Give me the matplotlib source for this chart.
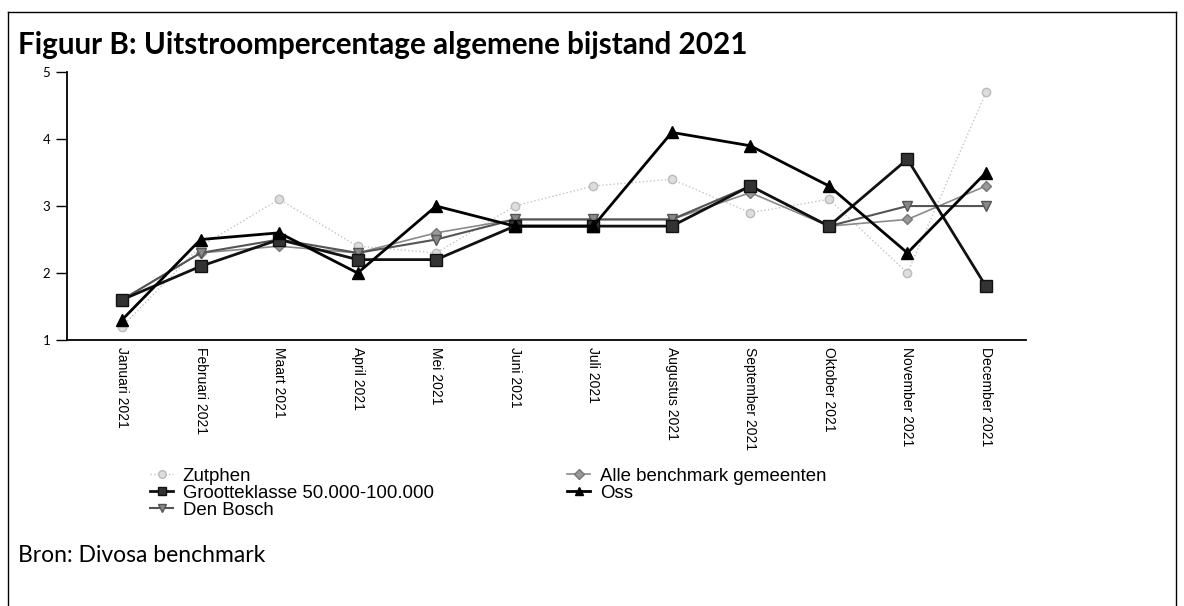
import matplotlib.pyplot as plt
from matplotlib.lines import Line2D

maanden = ["Januari 2021", "Februari 2021", "Maart 2021", "April 2021", "Mei 2021", "Juni 2021",
           "Juli 2021", "Augustus 2021", "September 2021", "Oktober 2021", "November 2021", "December 2021"]
zutphen = [1.2, 2.4, 3.1, 2.4, 2.3, 3.0, 3.3, 3.4, 2.9, 3.1, 2.0, 4.7]
grootteklasse = [1.6, 2.1, 2.5, 2.2, 2.2, 2.7, 2.7, 2.7, 3.3, 2.7, 3.7, 1.8]
den_bosch = [1.6, 2.3, 2.5, 2.3, 2.5, 2.8, 2.8, 2.8, 3.3, 2.7, 3.0, 3.0]
alle = [1.6, 2.3, 2.4, 2.3, 2.6, 2.8, 2.8, 2.8, 3.2, 2.7, 2.8, 3.3]
oss = [1.3, 2.5, 2.6, 2.0, 3.0, 2.7, 2.7, 4.1, 3.9, 3.3, 2.3, 3.5]

fig = plt.figure(figsize=(11.84, 6.06), dpi=100)
ax = fig.add_axes([0.0566, 0.439, 0.81, 0.442])
x = list(range(len(maanden)))

# lijnen
l_zut, = ax.plot(x, zutphen, color="#c4c4c4", lw=1, ls=":", marker="o", ms=6,
                 mfc="#dddddd", mec="#bbbbbb", label="Zutphen")
l_alle, = ax.plot(x, alle, color="#8a8a8a", lw=1.2, marker="D", ms=5,
                  mfc="#999999", mec="#777777", label="Alle benchmark gemeenten")
l_db, = ax.plot(x, den_bosch, color="#555555", lw=1.5, marker="v", ms=7,
                mfc="#888888", mec="#555555", label="Den Bosch")
l_gr, = ax.plot(x, grootteklasse, color="#111111", lw=2, marker="s", ms=8,
                mfc="#333333", mec="#111111", label="Grootteklasse 50.000-100.000")
l_oss, = ax.plot(x, oss, color="#000000", lw=2, marker="^", ms=8,
                 mfc="#000000", mec="#000000", label="Oss")

ax.set_xlim(-0.7, 11.51)
ax.set_ylim(1, 5)
ax.set_yticks([1, 2, 3, 4, 5])
ax.set_xticks(x)
ax.set_xticklabels(maanden, rotation=270, fontsize=10, family="Liberation Sans", va="top")
ax.tick_params(axis="x", length=0, pad=5)
ax.tick_params(axis="y", length=8, width=1, labelsize=9.5, pad=4)
for t in ax.get_yticklabels():
    t.set_family("Lato")
ax.spines["top"].set_visible(False)
ax.spines["right"].set_visible(False)
ax.spines["left"].set_linewidth(1.3)
ax.spines["bottom"].set_linewidth(1.3)

# legenda in twee kolommen, strak op elkaar
lprops = {"family": "Liberation Sans", "size": 13.4}
lkw = dict(loc="upper left", frameon=False, handlelength=1.25, handletextpad=0.5,
           labelspacing=0.0, borderpad=0, borderaxespad=0, prop=lprops)
leg1 = fig.legend(handles=[l_zut, l_gr, l_db], bbox_to_anchor=(0.1267, 0.228), **lkw)
leg2 = fig.legend(handles=[l_alle, l_oss], bbox_to_anchor=(0.479, 0.228), **lkw)
for lg in (leg1, leg2):
    for h in lg.legend_handles:
        h.set_markersize(5.5)

fig.text(0.015, 0.926, "Figuur B: Uitstroompercentage algemene bijstand 2021",
         fontsize=21.3, fontweight="bold", family="Lato", va="center")
fig.text(0.015, 0.083, "Bron: Divosa benchmark", fontsize=16.5, family="Lato", va="center")

# kader
fig.add_artist(Line2D([0.007, 0.993], [0.98, 0.98], color="black", lw=1))
fig.add_artist(Line2D([0.007, 0.007], [0.0, 0.98], color="black", lw=1))
fig.add_artist(Line2D([0.993, 0.993], [0.0, 0.98], color="black", lw=1))

fig.savefig("out.png", dpi=100)
